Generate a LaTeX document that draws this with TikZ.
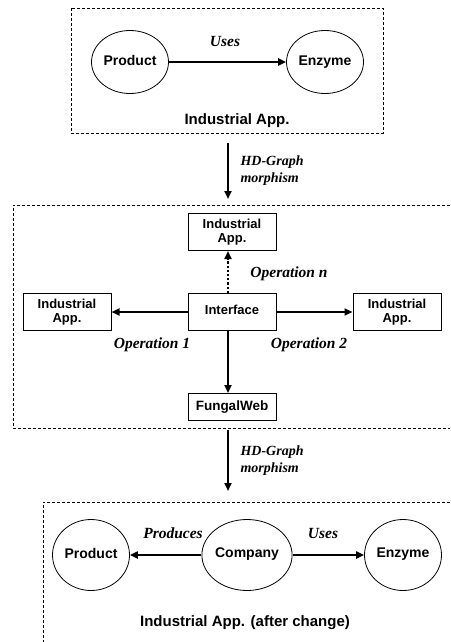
\documentclass[tikz,border=0pt]{standalone}
\usepackage{fontspec}
\setmainfont{Liberation Serif}
\setsansfont{Liberation Sans}
\usetikzlibrary{arrows.meta,shapes.geometric}
\begin{document}
\begin{tikzpicture}[x=1pt,y=-1pt,
  frame/.style={draw, line width=0.8pt, dash pattern=on 3pt off 2pt},
  circ/.style={draw, ellipse, line width=0.8pt, inner sep=0pt,
    minimum width=77pt, minimum height=63pt,
    font=\sffamily\bfseries\fontsize{14}{16}\selectfont},
  box/.style={draw, line width=1pt, inner sep=0pt, align=center,
    minimum width=88pt, font=\sffamily\bfseries\fontsize{13}{14}\selectfont},
  arr/.style={line width=2.2pt, -{Triangle[length=8pt,width=7pt]}},
  oplabel/.style={font=\itshape\bfseries\fontsize{15.5}{17}\selectfont},
  morph/.style={font=\itshape\bfseries\fontsize{14}{17}\selectfont, align=left, anchor=west},
  title/.style={font=\sffamily\bfseries\fontsize{15}{17}\selectfont}]
\useasboundingbox (0,0) rectangle (450,642);

% --- top: original industrial application graph ---
\draw[frame] (71,8) rectangle (383,133);
\node[circ] (prod1) at (130,62) {\raisebox{3pt}{Product}};
\node[circ] (enz1) at (325,62) {\raisebox{3pt}{Enzyme}};
\draw[arr] (prod1) -- (enz1);
\node[oplabel] (uses1) at (225,42) {Uses};
\node[title] (t1) at (237,121) {Industrial App.};

% --- first morphism ---
\coordinate (m1a) at (228,143);
\coordinate (m1b) at (228,199);
\draw[arr] (m1a) -- (m1b);
\node[morph] (ml1) at (237,171) {HD-Graph\\morphism};

% --- middle: interface with operations ---
\draw[frame] (450,205) -- (13,205) -- (13,428) -- (450,428);
\node[box, minimum height=37pt] (appT) at (232,232) {Industrial\\App.};
\node[box, minimum height=37pt] (iface) at (232,312) {\raisebox{5pt}{Interface}};
\node[box, minimum height=37pt] (appL) at (67,312) {Industrial\\App.};
\node[box, minimum height=37pt] (appR) at (397,312) {Industrial\\App.};
\node[box, minimum height=27pt, font=\sffamily\bfseries\fontsize{13.5}{15}\selectfont] (fweb) at (232,407) {FungalWeb};
\draw[arr, dotted] ([xshift=-4pt]iface.north) -- ([xshift=-4pt]appT.south);
\draw[arr] (iface.west) -- (appL.east);
\draw[arr] (iface.east) -- (appR.west);
\draw[arr] ([xshift=-4pt]iface.south) -- ([xshift=-4pt]fweb.north);
\node[oplabel] (opn) at (289,274) {Operation n};
\node[oplabel] (op1) at (152,345) {Operation 1};
\node[oplabel] (op2) at (309,345) {Operation 2};

% --- second morphism ---
\coordinate (m2a) at (228,430);
\coordinate (m2b) at (228,491);
\draw[arr] (m2a) -- (m2b);
\node[morph] (ml2) at (237,461) {HD-Graph\\morphism};

% --- bottom: application after change ---
\draw[frame] (450,502) -- (43,502) -- (43,642);
\node[circ, minimum height=71pt] (prod2) at (91,555) {\raisebox{4pt}{Product}};
\node[circ, minimum width=80pt, minimum height=71pt] (comp) at (247,555) {\raisebox{5pt}{Company}};
\node[circ, minimum height=71pt] (enz2) at (403,555) {\raisebox{4pt}{Enzyme}};
\draw[arr] (comp) -- (prod2);
\draw[arr] (comp) -- (enz2);
\node[oplabel] (prodlab) at (173,533) {Produces};
\node[oplabel] (uses2) at (323,533) {Uses};
\node[title] (t2) at (245,623) {Industrial App. (after change)};
\end{tikzpicture}
\end{document}
